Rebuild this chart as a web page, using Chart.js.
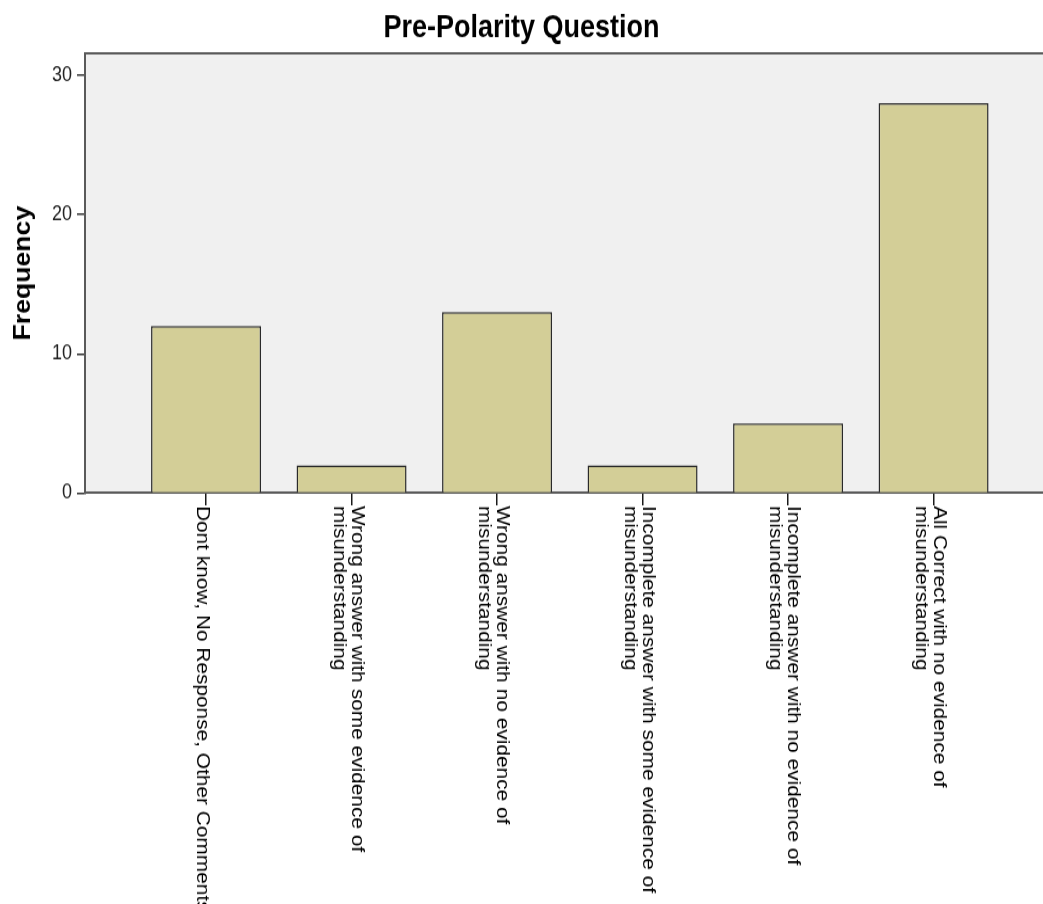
<!DOCTYPE html>
<html>
<head>
<meta charset="utf-8">
<title>Pre-Polarity Question</title>
<script src="https://cdn.jsdelivr.net/npm/chart.js@4.4.1/dist/chart.umd.min.js"></script>
<style>
  html, body { margin: 0; padding: 0; background: #fff; }
  #page { width: 1043px; height: 904px; overflow: hidden; position: relative; }
  /* the chart is drawn on a shorter canvas and stretched to full height */
  #frame { width: 1043px; height: 780px; transform: scaleY(1.159); transform-origin: 0 0; }
  canvas { display: block; }
</style>
</head>
<body>
<div id="page"><div id="frame"><canvas id="chart" width="1043" height="780"></canvas></div></div>
<script>
const chartTitle = 'Pre-Polarity Question';
const axisTitle = 'Frequency';

// each category label is split into its printed lines
const categories = [
  ['Dont know, No Response, Other Comments'],
  ['Wrong answer with some evidence of', 'misunderstanding'],
  ['Wrong answer with no evidence of', 'misunderstanding'],
  ['Incomplete answer with some evidence of', 'misunderstanding'],
  ['Incomplete answer with no evidence of', 'misunderstanding'],
  ['All Correct with no evidence of', 'misunderstanding']
];
const frequencies = [12, 2, 13, 2, 5, 28];
const yTicks = [0, 10, 20, 30];

Chart.defaults.font.family = '"Liberation Sans", Arial, sans-serif';
Chart.defaults.color = '#000';

// grey plot panel with a frame line along its top edge
const panelPlugin = {
  id: 'panel',
  beforeDraw(chart) {
    const { ctx, chartArea: a } = chart;
    ctx.save();
    ctx.fillStyle = '#f0f0f0';
    ctx.fillRect(a.left, a.top, a.right - a.left, a.bottom - a.top);
    ctx.strokeStyle = '#5a5a5a';
    ctx.lineWidth = 2;
    ctx.beginPath();
    ctx.moveTo(a.left - 1, a.top);
    ctx.lineTo(a.right, a.top);
    ctx.stroke();
    ctx.restore();
  }
};

// category labels read top-to-bottom below each tick mark
const categoryLabelPlugin = {
  id: 'categoryLabels',
  afterDraw(chart) {
    const { ctx } = chart;
    const xs = chart.scales.x;
    const lineHeight = 18;
    ctx.save();
    ctx.font = '18px "Liberation Sans", Arial, sans-serif';
    ctx.fillStyle = '#000';
    ctx.textAlign = 'left';
    ctx.textBaseline = 'middle';
    categories.forEach((lines, i) => {
      const x = xs.getPixelForValue(i + 1) - 4;
      const y = xs.top + 11;
      ctx.save();
      ctx.translate(x, y);
      ctx.rotate(Math.PI / 2);
      const n = lines.length;
      lines.forEach((line, k) => {
        ctx.fillText(line, 0, (k - (n - 1) / 2) * lineHeight);
      });
      ctx.restore();
    });
    ctx.restore();
  }
};

new Chart(document.getElementById('chart'), {
  type: 'bar',
  data: {
    datasets: [{
      label: axisTitle,
      data: frequencies.map((v, i) => ({ x: i + 1, y: v })),
      backgroundColor: '#d3ce97',
      borderColor: '#2a2a2a',
      borderWidth: 1.5,
      barPercentage: 0.756,
      categoryPercentage: 1
    }]
  },
  options: {
    responsive: false,
    animation: false,
    events: [],
    layout: { padding: 0 },
    plugins: {
      legend: { display: false },
      tooltip: { enabled: false },
      title: {
        display: true,
        text: chartTitle,
        color: '#000',
        font: { size: 27, weight: 'bold' },
        padding: { top: 8.3, bottom: 5.3 }
      }
    },
    scales: {
      x: {
        type: 'linear',
        position: 'bottom',
        offset: false,
        bounds: 'data',
        min: 0.168,
        max: 6.752,
        grid: { display: true, offset: false, drawOnChartArea: false, drawTicks: true, tickLength: 10.5, color: '#1a1a1a', lineWidth: 1.5 },
        border: { display: true, color: '#5a5a5a', width: 2 },
        ticks: { display: false },
        afterBuildTicks(scale) { scale.ticks = categories.map((_, i) => ({ value: i + 1 })); },
        afterFit(scale) { scale.height = 354.6; }
      },
      y: {
        type: 'linear',
        min: 0,
        max: 31.59,
        grid: { display: true, drawOnChartArea: false, drawTicks: true, tickLength: 8, color: '#333', lineWidth: 1.5 },
        border: { display: true, color: '#5a5a5a', width: 2 },
        ticks: { padding: 5, color: '#222', font: { size: 18 } },
        afterBuildTicks(scale) { scale.ticks = yTicks.map(v => ({ value: v })); },
        afterFit(scale) { scale.width = 85; },
        title: {
          display: true,
          text: axisTitle,
          color: '#000',
          font: { size: 23, weight: 'bold' },
          padding: { top: 10, bottom: 0 }
        }
      }
    }
  },
  plugins: [panelPlugin, categoryLabelPlugin]
});
</script>
</body>
</html>
